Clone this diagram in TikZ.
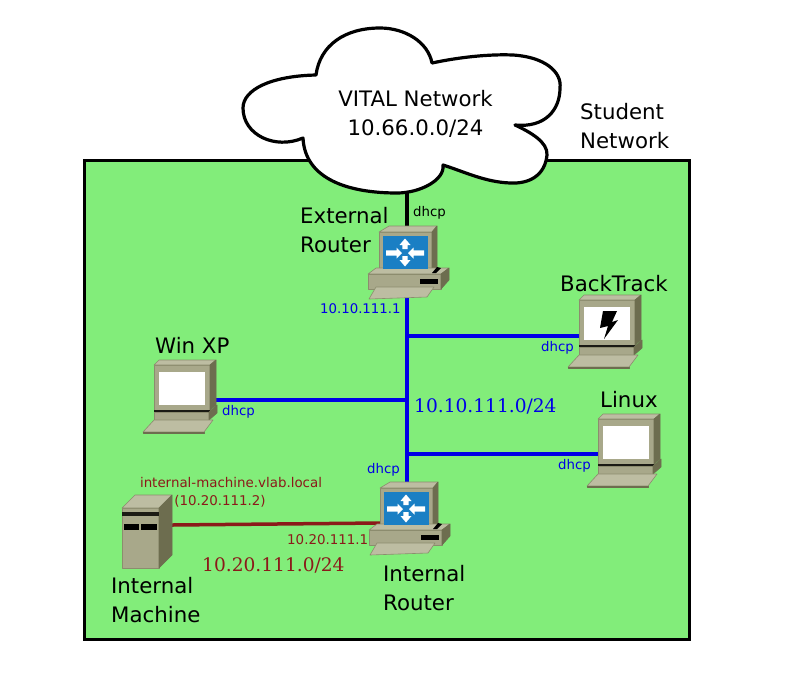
\documentclass[tikz,border=0pt]{standalone}
\usepackage{fontspec}
\setmainfont{DejaVu Sans}
\newfontfamily\serifnet{DejaVu Serif}
\definecolor{zone}{HTML}{82ED7A}
\definecolor{face}{HTML}{A8A88A}
\definecolor{facelight}{HTML}{BDBDA2}
\definecolor{faceside}{HTML}{6D6D4F}
\definecolor{faceedge}{HTML}{8C8C6E}
\definecolor{screenblue}{HTML}{1A7FC4}
\definecolor{netblue}{HTML}{0000E6}
\definecolor{netred}{HTML}{8B1A1A}
\tikzset{
  x=1pt,y=-1pt,
  big/.style={font=\fontsize{21.3}{29}\selectfont,text=black,align=left,inner sep=0pt},
  cloudtext/.style={font=\fontsize{21.3}{29}\selectfont,align=center,inner sep=0pt},
  bluelabel/.style={font=\fontsize{13.3}{16}\selectfont,text=netblue,inner sep=0pt},
  blacklabel/.style={font=\fontsize{13.3}{16}\selectfont,text=black,inner sep=0pt},
  redlabel/.style={font=\fontsize{13.4}{18}\selectfont,text=netred,inner sep=0pt,align=center},
  bluenet/.style={font=\serifnet\fontsize{18.6}{22}\selectfont,text=netblue,inner sep=0pt},
  rednet/.style={font=\serifnet\fontsize{18.6}{22}\selectfont,text=netred,inner sep=0pt},
  bluewire/.style={draw=netblue,line width=3.5pt},
  redwire/.style={draw=netred,line width=3.5pt},
  blackwire/.style={draw=black,line width=3.5pt},
  part/.style={fill=face,draw=faceedge,line width=0.6pt,line join=round},
  lightpart/.style={fill=facelight,draw=faceedge,line width=0.6pt,line join=round},
  sidepart/.style={fill=faceside,draw=faceside,line width=0.6pt,line join=round},
  whitearrow/.style={fill=white,draw=none},
  routerpc/.pic={
    \path[part] (0,0) rectangle (53,41);
    \path[lightpart] (0,0)--(10,-6)--(58,-6)--(53,0)--cycle;
    \path[sidepart] (53,0)--(58,-6)--(58,35)--(53,41)--cycle;
    \path[lightpart] (-11,42)--(-3,36)--(70,36)--(62,42)--cycle;
    \path[part] (-11,42) rectangle (62,57);
    \path[sidepart] (62,42)--(70,36)--(70,48)--(62,57)--cycle;
    \fill[black] (53,41)--(58,35)--(62,36)--(57,41)--cycle;
    \fill[black] (41,47) rectangle (59,52);
    \path[lightpart] (-3,55)--(55,55)--(48,65)--(-10,67)--cycle;
    \fill[screenblue] (4,4) rectangle (49,37);
    \path[whitearrow] (26,6.5)--(31.5,13)--(28.7,13)--(28.7,17)--(23.3,17)--(23.3,13)--(20.5,13)--cycle;
    \path[whitearrow] (26,34.5)--(31.5,28)--(28.7,28)--(28.7,24)--(23.3,24)--(23.3,28)--(20.5,28)--cycle;
    \path[whitearrow] (23,21)--(17.5,15.5)--(17.5,18.3)--(7,18.3)--(7,23.7)--(17.5,23.7)--(17.5,26.5)--cycle;
    \path[whitearrow] (29,21)--(34.5,15.5)--(34.5,18.3)--(45,18.3)--(45,23.7)--(34.5,23.7)--(34.5,26.5)--cycle;
  },
  pcbody/.pic={
    \path[part] (0,0) rectangle (56,45);
    \path[lightpart] (0,0)--(5,-5)--(62,-5)--(56,0)--cycle;
    \path[sidepart] (56,0)--(62,-5)--(62,40)--(56,45)--cycle;
    \path[part] (0,47) rectangle (55,55);
    \fill[black!75!faceside] (0,45) rectangle (56,47);
    \path[sidepart] (55,47)--(63,40)--(63,48)--(55,55)--cycle;
    \path[lightpart] (0,55)--(59,55)--(50,67)--(-11,67)--cycle;
    \path[sidepart] (-11,67)--(50,67)--(50,68)--(-11,68)--cycle;
    \fill[white] (5,7) rectangle (51,40);
  },
  serverbox/.pic={
    \path[part] (0,0) rectangle (37,60);
    \path[lightpart] (0,0)--(13,-13)--(50,-13)--(37,0)--cycle;
    \path[sidepart] (37,0)--(50,-13)--(50,47)--(37,60)--cycle;
    \fill[black!75!faceside] (0,4) rectangle (37,8);
    \fill[black] (2,16) rectangle (17,22);
    \fill[black] (19,16) rectangle (35,22);
  }
}
\begin{document}
\begin{tikzpicture}
\useasboundingbox (0,0) rectangle (810,678);
\fill[white] (0,0) rectangle (810,678);
\draw[fill=zone,line width=3pt,line join=miter] (84,160) rectangle (689.5,639);

% named anchors
\coordinate (cloudfoot) at (407,193);
\coordinate (extrouter) at (407,226);
\coordinate (extlan) at (407,298);
\coordinate (intlan) at (407,482);
\coordinate (tapbt) at (407,336);
\coordinate (tapxp) at (407,400);
\coordinate (taplx) at (407,454);
\coordinate (backtrack) at (580,336);
\coordinate (winxp) at (215,400);
\coordinate (linux) at (598,454);
\coordinate (server) at (172,525);
\coordinate (introuter) at (380,523);

% connectors
\draw[blackwire] (cloudfoot) -- (extrouter);
\draw[bluewire] (extlan) -- (intlan);
\draw[bluewire] (tapbt) -- (backtrack);
\draw[bluewire] (tapxp) -- (winxp);
\draw[bluewire] (taplx) -- (linux);
\draw[redwire] (server) -- (introuter);

% cloud
\draw[fill=white,line width=3.2pt,line join=round] (316,75)
  .. controls (320,45) and (345,28) .. (380,28)
  .. controls (405,28) and (428,42) .. (432,63)
  .. controls (460,57) and (490,54) .. (513,55)
  .. controls (545,57) and (562,72) .. (560,88)
  .. controls (560,110) and (545,128) .. (515,125)
  .. controls (530,132) and (548,142) .. (547,155)
  .. controls (545,175) and (530,184) .. (510,183)
  .. controls (485,182) and (465,172) .. (443,165)
  .. controls (445,180) and (420,193) .. (397,193)
  .. controls (350,193) and (305,180) .. (303,138)
  .. controls (275,150) and (243,135) .. (243,108)
  .. controls (243,90) and (270,76) .. (316,75) -- cycle;
\node[cloudtext] (cloudlabel) at (415.5,113.5) {VITAL Network\\10.66.0.0/24};

% devices
\pic at (379,232) {routerpc};
\pic at (380,488) {routerpc};
\pic at (154,365) {pcbody};
\pic at (579,300) {pcbody};
\pic at (598,419) {pcbody};
\pic at (122,508) {serverbox};
\fill[black] (603,311)--(617,311)--(612,322)--(618,320)--(604,339)--(608,326)--(600,328)--cycle;

% text
\node[big,anchor=west] (studentlabel) at (580,126) {Student\\Network};
\node[big,anchor=west] (extlabel) at (300,230) {External\\Router};
\node[big,anchor=west] (btlabel) at (560,284) {BackTrack};
\node[big,anchor=west] (xplabel) at (155,345) {Win XP};
\node[big,anchor=west] (lxlabel) at (600,399.5) {Linux};
\node[big,anchor=west] (intlabel) at (383,588) {Internal\\Router};
\node[big,anchor=west] (machlabel) at (111,600.5) {Internal\\Machine};

\node[blacklabel,anchor=west] (dhcptop) at (413,212.5) {dhcp};
\node[bluelabel,anchor=west] (extip) at (320,309) {10.10.111.1};
\node[bluelabel,anchor=west] (dhcpbt) at (541,348) {dhcp};
\node[bluelabel,anchor=west] (dhcpxp) at (222,412) {dhcp};
\node[bluelabel,anchor=west] (dhcplx) at (558,466) {dhcp};
\node[bluelabel,anchor=west] (dhcpint) at (367,470) {dhcp};
\node[bluenet,anchor=west] (bluenetlabel) at (414,406.5) {10.10.111.0/24};
\node[rednet,anchor=west] (rednetlabel) at (202,565.5) {10.20.111.0/24};
\node[redlabel] (machname) at (231,492.5) {internal-machine.vlab.local\\(10.20.111.2)\hspace*{22pt}};
\node[redlabel,anchor=west] (intip) at (287,540) {10.20.111.1};
\end{tikzpicture}
\end{document}
